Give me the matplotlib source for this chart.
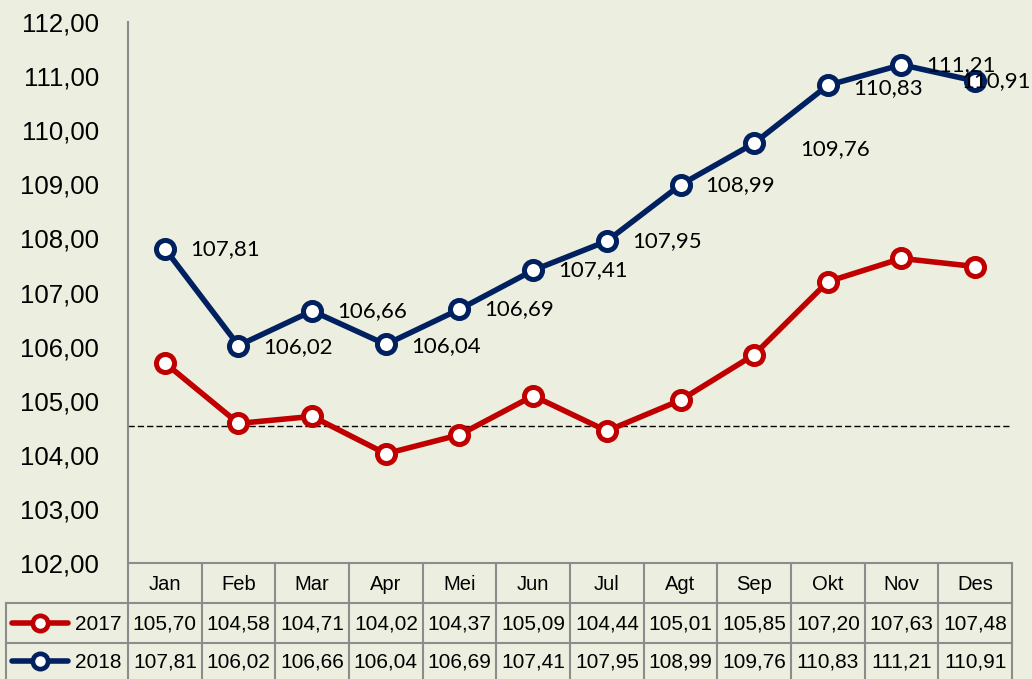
import matplotlib
matplotlib.use("Agg")
import matplotlib.pyplot as plt

# data
months = ["Jan", "Feb", "Mar", "Apr", "Mei", "Jun", "Jul", "Agt", "Sep", "Okt", "Nov", "Des"]
val_2017 = [105.70, 104.58, 104.71, 104.02, 104.37, 105.09, 104.44, 105.01, 105.85, 107.20, 107.63, 107.48]
val_2018 = [107.81, 106.02, 106.66, 106.04, 106.69, 107.41, 107.95, 108.99, 109.76, 110.83, 111.21, 110.91]
ref_level = 104.53
yticks = [102, 103, 104, 105, 106, 107, 108, 109, 110, 111, 112]

BG = "#ECEFDF"
RED = "#C00000"
NAVY = "#002060"
GRID = "#8C8C8C"
SANS = ["Liberation Sans", "DejaVu Sans"]
LABEL = ["Lato", "DejaVu Sans"]

W, H = 1032, 679
fig = plt.figure(figsize=(W / 100, H / 100), dpi=100, facecolor=BG)

# pixel geometry of the plot area
x0, x1 = 128, 1012
y_top, y_bot = 22, 563
ax = fig.add_axes([x0 / W, 1 - y_bot / H, (x1 - x0) / W, (y_bot - y_top) / H])
ax.patch.set_alpha(0)
ax.set_xlim(-0.5, len(months) - 0.5)
ax.set_ylim(102, 112)

for s in ["top", "right", "bottom"]:
    ax.spines[s].set_visible(False)
ax.spines["left"].set_color(GRID)
ax.spines["left"].set_linewidth(1.5)
ax.set_xticks([])
ax.set_yticks(yticks)
ax.set_yticklabels([f"{v:.2f}".replace(".", ",") for v in yticks], family=SANS, fontsize=18.5)
ax.tick_params(axis="y", length=0, pad=21)

xs = list(range(len(months)))
ax.axhline(ref_level, color="black", lw=1.0, ls=(0, (4.5, 2.2)), zorder=1)

mk = dict(marker="o", markersize=13, markerfacecolor="white", markeredgewidth=3.6)
ax.plot(xs, val_2017, color=RED, lw=4, markeredgecolor=RED, zorder=3, clip_on=False, **mk)
ax.plot(xs, val_2018, color=NAVY, lw=4, markeredgecolor=NAVY, zorder=3, clip_on=False, **mk)

# data labels for 2018 (offsets in points, most sit to the right of the marker)
special = {8: (33, -4), 11: (-10, 0), 9: (18, -2)}
for i, v in enumerate(val_2018):
    dx, dy = special.get(i, (18, 0))
    if i in (1, 3):
        dy = -1
    ax.annotate(f"{v:.2f}".replace(".", ","), (i, v), xytext=(dx, dy), textcoords="offset points",
                ha="left", va="center", fontsize=16, family=LABEL, color="black", zorder=4,
                annotation_clip=False)

# data table drawn in figure pixel coordinates
tab = fig.add_axes([0, 0, 1, 1])
tab.set_xlim(0, W)
tab.set_ylim(H, 0)
tab.axis("off")
tab.patch.set_alpha(0)

col_w = (x1 - x0) / len(months)
rows_y = [563, 603, 643, 679]
leg_x = 6
lk = dict(color=GRID, lw=1.5)

# horizontal lines
tab.plot([x0, x1], [rows_y[0], rows_y[0]], **lk)
tab.plot([leg_x, x1], [rows_y[1], rows_y[1]], **lk)
tab.plot([leg_x, x1], [rows_y[2], rows_y[2]], **lk)
# vertical lines
for j in range(len(months) + 1):
    xv = x0 + j * col_w
    tab.plot([xv, xv], [rows_y[0], H], **lk)
tab.plot([leg_x, leg_x], [rows_y[1], H], **lk)

for j, m in enumerate(months):
    xc = x0 + (j + 0.5) * col_w
    tab.text(xc, (rows_y[0] + rows_y[1]) / 2 + 1, m, ha="center", va="center", fontsize=14.5, family=SANS)
    tab.text(xc, (rows_y[1] + rows_y[2]) / 2 + 1, f"{val_2017[j]:.2f}".replace(".", ","),
             ha="center", va="center", fontsize=15, family=SANS)
    tab.text(xc, (rows_y[2] + rows_y[3]) / 2 + 1, f"{val_2018[j]:.2f}".replace(".", ","),
             ha="center", va="center", fontsize=15, family=SANS)

for r, (name, c) in enumerate([("2017", RED), ("2018", NAVY)]):
    yc = (rows_y[r + 1] + rows_y[r + 2]) / 2
    tab.plot([12, 68], [yc, yc], color=c, lw=4, solid_capstyle="round")
    tab.plot([40], [yc], marker="o", markersize=11, markerfacecolor="white", markeredgecolor=c,
             markeredgewidth=3.4)
    tab.text(122, yc + 1, name, ha="right", va="center", fontsize=15, family=SANS)

fig.savefig("out.png", dpi=100, facecolor=BG)
